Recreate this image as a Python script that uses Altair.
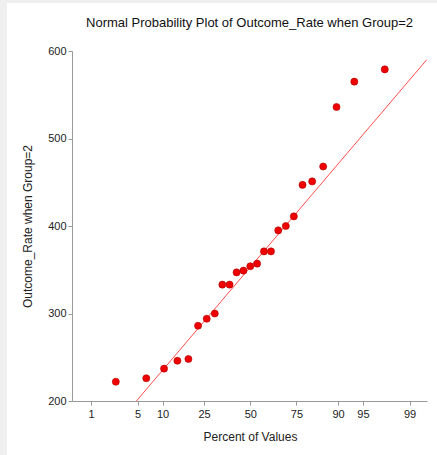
import altair as alt
import pandas as pd
from statistics import NormalDist

# Data
percent = [2.48, 6.44, 10.40, 14.36, 18.32, 22.28, 26.24, 30.20, 34.16, 38.12,
           42.08, 46.04, 50.00, 53.96, 57.92, 61.88, 65.84, 69.80, 73.76, 77.72,
           81.68, 85.64, 89.60, 93.56, 97.52]
outcome = [222, 226, 237, 246, 248, 286, 294, 300, 333, 333,
           347, 349, 354, 357, 371, 371, 395, 400, 411, 447,
           451, 468, 536, 565, 579]
line_pct = [0.5, 99.5]
line_val = [116, 590]
tick_labels = [1, 5, 10, 25, 50, 75, 90, 95, 99]
title_text = "Normal Probability Plot of Outcome_Rate when Group=2"

nd = NormalDist()
z = lambda p: nd.inv_cdf(p / 100.0)

pts = pd.DataFrame({"z": [z(p) for p in percent], "y": outcome})
ln = pd.DataFrame({"z": [z(p) for p in line_pct], "y": line_val})
tick_z = [z(t) for t in tick_labels]

expr = "''"
for t, zz in reversed(list(zip(tick_labels, tick_z))):
    expr = f"abs(datum.value - ({zz:.6f})) < 0.001 ? '{t}' : ({expr})"

FONT = "Liberation Sans"
W, H = 355, 350
xscale = alt.Scale(domain=[-2.603, 2.58], nice=False, zero=False)
yscale = alt.Scale(domain=[200, 600], nice=False, zero=False)

xaxis = alt.Axis(values=tick_z, labelExpr=expr, title="Percent of Values",
                 grid=False, domainColor="#999999", tickColor="#999999", tickSize=4,
                 labelFont=FONT, labelFontSize=11, labelColor="#222222", labelPadding=3,
                 titleFont=FONT, titleFontSize=12, titleFontWeight="normal", titleColor="#222222",
                 titleX=178, titleY=35, titleBaseline="middle", titleAlign="center")
yaxis = alt.Axis(values=[200, 300, 400, 500, 600], title="Outcome_Rate when Group=2",
                 grid=False, domainColor="#999999", tickColor="#999999", tickSize=4,
                 labelFont=FONT, labelFontSize=11, labelColor="#222222", labelPadding=2,
                 titleFont=FONT, titleFontSize=12, titleFontWeight="normal", titleColor="#222222",
                 titleX=-45, titleY=175, titleAngle=-90, titleBaseline="middle", titleAlign="center")

GRAY = "#efefef"
one = pd.DataFrame({"a": [0]})
strip_left = alt.Chart(one).mark_rect(fill=GRAY).encode(
    x=alt.value(-72), x2=alt.value(-65), y=alt.value(-51), y2=alt.value(404))
strip_top = alt.Chart(one).mark_rect(fill=GRAY).encode(
    x=alt.value(-72), x2=alt.value(365), y=alt.value(-51), y2=alt.value(-48))
title = alt.Chart(pd.DataFrame({"t": [title_text]})).mark_text(
    font=FONT, fontSize=13, color="#111111", align="center", baseline="middle").encode(
    text="t:N", x=alt.value(177.5), y=alt.value(-28))

line = alt.Chart(ln).mark_line(color="#ff4d4d", strokeWidth=1, clip=True).encode(
    x=alt.X("z:Q", scale=xscale, axis=xaxis),
    y=alt.Y("y:Q", scale=yscale, axis=yaxis))

points = alt.Chart(pts).mark_point(filled=True, size=50, fill="#ee0000",
                                   stroke="#b00000", strokeWidth=0.6, opacity=1).encode(
    x=alt.X("z:Q", scale=xscale, axis=xaxis),
    y=alt.Y("y:Q", scale=yscale, axis=yaxis))

chart = alt.layer(strip_left, strip_top, title, line, points).properties(
    width=W, height=H,
    autosize=alt.AutoSizeParams(type="none"),
    padding={"left": 72, "top": 51, "right": 10, "bottom": 54},
    background="white",
).configure_view(stroke=None)

chart.save("out.html", embed_options={"renderer": "svg", "actions": False})
